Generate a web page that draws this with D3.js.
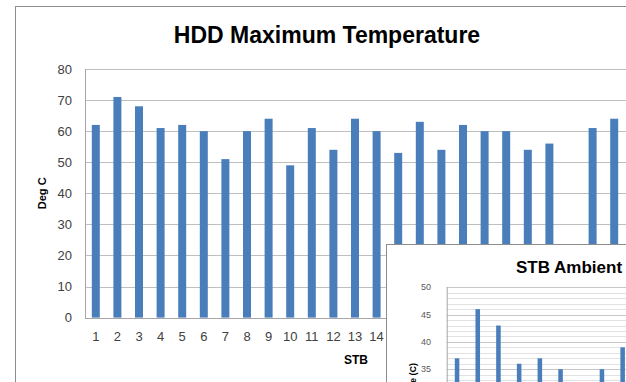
<!DOCTYPE html>
<html>
<head>
<meta charset="utf-8">
<script src="https://cdn.jsdelivr.net/npm/d3@7"></script>
<style>
  html, body { margin: 0; padding: 0; background: #fff; overflow: hidden; }
  svg { display: block; font-family: "Liberation Sans", Arial, sans-serif; }
</style>
</head>
<body>
<svg id="chart" width="626" height="382"></svg>
<script>
// ---- Data: main chart ----
const mainTitle = "HDD Maximum Temperature";
const mainCategories = ["1","2","3","4","5","6","7","8","9","10","11","12","13","14","15","16","17","18","19","20","21","22","23","24","25"];
const mainValues = [62, 71, 68, 61, 62, 60, 51, 60, 64, 49, 61, 54, 64, 60, 53, 63, 54, 62, 60, 60, 54, 56, null, 61, 64];
const mainYTicks = [0, 10, 20, 30, 40, 50, 60, 70, 80];
const mainYLabel = "Deg C";
const mainXLabel = "STB";

// ---- Data: inset chart ----
const insetTitle = "STB Ambient";
const insetCategories = ["1","2","3","4","5","6","7","8","9"];
const insetValues = [37, 46, 43, 36, 37, 35, null, 35, 39];
const insetYTicks = [20, 25, 30, 35, 40, 45, 50];
const insetYLabel = "Temperature (C)";

const W = 626, H = 382;
const svg = d3.select("#chart");
const barColor = "#4a7ebb";

// ---------- Main chart ----------
const main = { left: 85, right: 625, top: 69, bottom: 317.6 };
svg.append("rect").attr("x", 15.5).attr("y", 6.5).attr("width", 700).attr("height", 500)
  .attr("fill", "#fff").attr("stroke", "#8c8c8c").attr("stroke-width", 1);

const x = d3.scaleBand().domain(mainCategories).range([main.left, main.right]).padding(0);
const y = d3.scaleLinear().domain([0, 80]).range([main.bottom, main.top]);

// gridlines
svg.append("g").selectAll("line").data(mainYTicks.filter(d => d > 0)).join("line")
  .attr("x1", main.left).attr("x2", main.right + 20)
  .attr("y1", d => Math.round(y(d)) + 0.5).attr("y2", d => Math.round(y(d)) + 0.5)
  .attr("stroke", "#bfbfbf").attr("stroke-width", 1);

// axes lines
svg.append("line").attr("x1", main.left + 0.5).attr("x2", main.left + 0.5)
  .attr("y1", main.top).attr("y2", Math.round(main.bottom) + 0.5)
  .attr("stroke", "#a6a6a6");
svg.append("line").attr("x1", main.left).attr("x2", main.right + 20)
  .attr("y1", Math.round(main.bottom) + 0.5).attr("y2", Math.round(main.bottom) + 0.5)
  .attr("stroke", "#a6a6a6");

// bars
const bw = x.bandwidth() * 0.37;
svg.append("g").selectAll("rect").data(mainCategories.map((c, i) => ({ c, v: mainValues[i] })).filter(d => d.v != null))
  .join("rect")
  .attr("x", d => x(d.c) + x.bandwidth() / 2 - bw / 2)
  .attr("width", bw)
  .attr("y", d => y(d.v))
  .attr("height", d => y(0) - y(d.v))
  .attr("fill", barColor);

// y tick labels
svg.append("g").selectAll("text").data(mainYTicks).join("text")
  .attr("x", 72).attr("y", d => y(d)).attr("dy", "0.35em")
  .attr("text-anchor", "end").attr("font-size", 13).attr("fill", "#404040")
  .text(d => d);

// inset box position (it covers part of the main chart)
const insetBox = { x: 386.5, y: 244.5 };

// x tick labels (those under the inset box are hidden)
svg.append("g").selectAll("text")
  .data(mainCategories.filter(d => x(d) + x.bandwidth() / 2 + 6 < insetBox.x))
  .join("text")
  .attr("x", d => x(d) + x.bandwidth() / 2).attr("y", 341)
  .attr("text-anchor", "middle").attr("font-size", 13).attr("fill", "#404040")
  .text(d => d);

// titles
svg.append("text").attr("x", 327).attr("y", 43).attr("text-anchor", "middle")
  .attr("font-size", 23).attr("font-weight", "bold").attr("fill", "#000").text(mainTitle);
svg.append("text").attr("transform", `translate(42,${(main.top + main.bottom) / 2}) rotate(-90)`)
  .attr("text-anchor", "middle").attr("dy", "0.35em")
  .attr("font-size", 11).attr("font-weight", "bold").attr("fill", "#000").text(mainYLabel);
svg.append("text").attr("x", 356).attr("y", 364).attr("text-anchor", "middle")
  .attr("font-size", 12).attr("font-weight", "bold").attr("fill", "#000").text(mainXLabel);

// ---------- Inset chart ----------
const ins = { left: 446.7, right: 633, top: 287.3, bottom: 287.3 + 30 * 5.46 };
svg.append("rect").attr("x", insetBox.x).attr("y", insetBox.y).attr("width", 400).attr("height", 300)
  .attr("fill", "#fff").attr("stroke", "#8c8c8c").attr("stroke-width", 1);

const xi = d3.scaleBand().domain(insetCategories).range([ins.left, ins.right]).padding(0);
const yi = d3.scaleLinear().domain([20, 50]).range([ins.bottom, ins.top]);

// gridlines every unit (major every 5)
svg.append("g").selectAll("line").data(d3.range(20, 51)).join("line")
  .attr("x1", ins.left).attr("x2", 640)
  .attr("y1", d => Math.round(yi(d)) + 0.5).attr("y2", d => Math.round(yi(d)) + 0.5)
  .attr("stroke", d => d % 5 === 0 ? "#c8c8c8" : "#e2e2e2").attr("stroke-width", 1);

svg.append("line").attr("x1", ins.left + 0.5).attr("x2", ins.left + 0.5)
  .attr("y1", ins.top).attr("y2", ins.bottom)
  .attr("stroke", "#a6a6a6");

const bwi = xi.bandwidth() * 0.22;
svg.append("g").selectAll("rect").data(insetCategories.map((c, i) => ({ c, v: insetValues[i] })).filter(d => d.v != null))
  .join("rect")
  .attr("x", d => xi(d.c) + xi.bandwidth() / 2 - bwi / 2)
  .attr("width", bwi)
  .attr("y", d => yi(d.v))
  .attr("height", d => yi(20) - yi(d.v))
  .attr("fill", barColor);

// inset tick labels (only those inside the visible frame)
svg.append("g").selectAll("text").data(insetYTicks.filter(d => yi(d) < H - 6)).join("text")
  .attr("x", 431).attr("y", d => yi(d)).attr("dy", "0.35em")
  .attr("text-anchor", "end").attr("font-size", 9).attr("fill", "#595959")
  .text(d => d);

svg.append("text").attr("x", 569).attr("y", 273).attr("text-anchor", "middle")
  .attr("font-size", 17).attr("font-weight", "bold").attr("fill", "#000").text(insetTitle);
svg.append("text").attr("transform", `translate(413,363) rotate(-90)`)
  .attr("text-anchor", "end").attr("dy", "0.35em")
  .attr("font-size", 9).attr("font-weight", "bold").attr("fill", "#000").text(insetYLabel);
</script>
</body>
</html>
